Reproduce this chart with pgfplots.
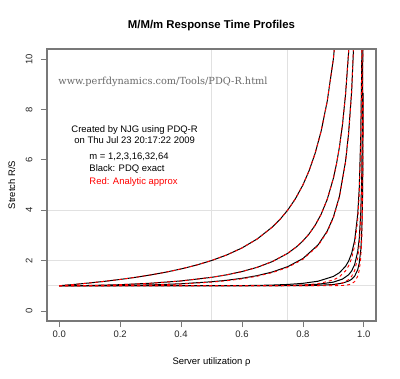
\documentclass[border=0pt]{standalone}
\usepackage{fontspec}
\setmainfont{Liberation Sans}
\newfontfamily\urlfont{DejaVu Serif}
\usepackage{pgfplots}
\pgfplotsset{compat=1.18}
\definecolor{boxgray}{RGB}{120,120,120}
\definecolor{gridgray}{RGB}{225,225,225}
\definecolor{urlgray}{RGB}{105,105,105}
\definecolor{rred}{RGB}{255,0,0}
\begin{document}
\begin{tikzpicture}
\useasboundingbox (-47bp,-58bp) rectangle (353bp,321bp);
\begin{axis}[
  at={(0,0)}, anchor=south west,
  scale only axis, width=329bp, height=272bp,
  xmin=-0.04, xmax=1.04, ymin=-0.4, ymax=10.4,
  axis line style={draw=boxgray, line width=1.1bp},
  tick align=outside,
  major tick length=6bp,
  every tick/.style={draw=boxgray, line width=0.7bp},
  xtick={0,0.2,0.4,0.6,0.8,1},
  xticklabels={0.0,0.2,0.4,0.6,0.8,1.0},
  ytick={0,2,4,6,8,10},
  xtick pos=bottom, ytick pos=left,
  /pgf/number format/assume math mode=true,
  ticklabel style={font=\fontsize{9.5}{11}\selectfont, text=black!85},
  yticklabel style={rotate=90, anchor=south},
  yticklabel shift=5bp,
  extra x ticks={0.5,0.75}, extra x tick labels={},
  extra x tick style={grid=major, major grid style={draw=gridgray, line width=0.6bp}, major tick length=0pt},
  extra y ticks={1,2,4}, extra y tick labels={},
  extra y tick style={grid=major, major grid style={draw=gridgray, line width=0.6bp}, major tick length=0pt},
  title={M/M/m Response Time Profiles},
  title style={font=\bfseries\fontsize{11.4}{13}\selectfont, at={(axis description cs:0.5,1.066)}, anchor=center},
  xlabel={Server utilization ρ},
  ylabel={Stretch R/S},
  xlabel style={font=\fontsize{9.5}{11}\selectfont, at={(axis description cs:0.5,-0.151)}, anchor=center},
  ylabel style={font=\fontsize{9.5}{11}\selectfont, at={(axis description cs:-0.107,0.5)}, anchor=center},
  clip=true,
]
% ---------- PDQ exact (black) ----------
\addplot[black, line width=1bp] coordinates {
(0,1) (0.05,1.0526) (0.1,1.1111) (0.15,1.1765) (0.2,1.25) (0.25,1.3333) (0.3,1.4286) (0.35,1.5385) (0.4,1.6667) (0.45,1.8182) (0.5,2) (0.55,2.2222) (0.6,2.5) (0.65,2.8571) (0.7,3.3333) (0.725,3.6364) (0.75,4) (0.775,4.4444) (0.8,5) (0.82,5.5556) (0.84,6.25) (0.86,7.1429) (0.88,8.3333) (0.9,10) (0.92,12.5)};
\addplot[black, line width=1bp] coordinates {
(0,1) (0.1,1.0101) (0.2,1.0417) (0.3,1.0989) (0.4,1.1905) (0.5,1.3333) (0.55,1.4337) (0.6,1.5625) (0.65,1.7316) (0.7,1.9608) (0.75,2.2857) (0.78,2.5536) (0.8,2.7778) (0.82,3.0525) (0.84,3.3967) (0.86,3.8402) (0.88,4.4326) (0.9,5.2632) (0.91,5.8173) (0.92,6.5104) (0.93,7.4019) (0.94,8.5911) (0.95,10.2564) (0.96,12.755)};
\addplot[black, line width=1bp] coordinates {
(0,1) (0.1,1.0014) (0.2,1.0103) (0.3,1.0333) (0.4,1.0784) (0.5,1.1579) (0.55,1.2172) (0.6,1.2956) (0.65,1.4012) (0.7,1.5470) (0.75,1.7570) (0.8,2.0787) (0.85,2.6231) (0.88,3.1722) (0.9,3.7235) (0.92,4.5528) (0.94,5.9376) (0.95,7.0467) (0.96,8.7114) (0.97,11.487)};
\addplot[black, line width=1bp] coordinates {
(0,1) (0.3,1) (0.5,1.001) (0.6,1.006) (0.65,1.013) (0.7,1.027) (0.75,1.0511) (0.8,1.0953) (0.85,1.1805) (0.9,1.3696) (0.92,1.5181) (0.94,1.7707) (0.95,1.9752) (0.96,2.2849) (0.97,2.8017) (0.98,3.8387) (0.985,4.8784) (0.99,6.9597) (0.993,9.637) (0.994,11.125)};
\addplot[black, line width=1bp] coordinates {
(0,1) (0.5,1.0002) (0.6,1.0015) (0.7,1.0055) (0.75,1.012) (0.8,1.0263) (0.85,1.0588) (0.9,1.1432) (0.93,1.2642) (0.95,1.4348) (0.96,1.5865) (0.97,1.8427) (0.98,2.3595) (0.985,2.8780) (0.99,3.9173) (0.993,5.2552) (0.995,7.0401) (0.996,8.602) (0.997,11.206)};
\addplot[black, line width=1bp] coordinates {
(0,1) (0.7,1.0003) (0.8,1.003) (0.85,1.0157) (0.9,1.0488) (0.93,1.1036) (0.95,1.1838) (0.96,1.2570) (0.97,1.3825) (0.98,1.6389) (0.985,1.8968) (0.99,2.4153) (0.993,3.0826) (0.995,3.9755) (0.996,4.7562) (0.997,6.0578) (0.998,8.6616)};
% ---------- Analytic approx (red dashed) ----------
\addplot[rred, line width=0.9bp, dash pattern=on 3bp off 3bp] coordinates {
(0,1) (0.05,1.0526) (0.1,1.1111) (0.15,1.1765) (0.2,1.25) (0.25,1.3333) (0.3,1.4286) (0.35,1.5385) (0.4,1.6667) (0.45,1.8182) (0.5,2) (0.55,2.2222) (0.6,2.5) (0.65,2.8571) (0.7,3.3333) (0.725,3.6364) (0.75,4) (0.775,4.4444) (0.8,5) (0.82,5.5556) (0.84,6.25) (0.86,7.1429) (0.88,8.3333) (0.9,10) (0.92,12.5)};
\addplot[rred, line width=0.9bp, dash pattern=on 3bp off 3bp] coordinates {
(0,1) (0.1,1.0101) (0.2,1.0417) (0.3,1.0989) (0.4,1.1905) (0.5,1.3333) (0.55,1.4337) (0.6,1.5625) (0.65,1.7316) (0.7,1.9608) (0.75,2.2857) (0.78,2.5536) (0.8,2.7778) (0.82,3.0525) (0.84,3.3967) (0.86,3.8402) (0.88,4.4326) (0.9,5.2632) (0.91,5.8173) (0.92,6.5104) (0.93,7.4019) (0.94,8.5911) (0.95,10.2564) (0.96,12.755)};
\addplot[rred, line width=0.9bp, dash pattern=on 3bp off 3bp] coordinates {
(0,1) (0.1,1.001) (0.2,1.0081) (0.3,1.0277) (0.4,1.0684) (0.5,1.1429) (0.55,1.1996) (0.6,1.2755) (0.65,1.3786) (0.7,1.5221) (0.75,1.7297) (0.8,2.0492) (0.85,2.5915) (0.88,3.1394) (0.9,3.6900) (0.92,4.5185) (0.94,5.9027) (0.95,7.0114) (0.96,8.6757) (0.97,11.451)};
\addplot[rred, line width=0.9bp, dash pattern=on 3bp off 3bp] coordinates {
(0,1) (0.5,1.0000) (0.6,1.0003) (0.65,1.001) (0.7,1.0033) (0.75,1.0101) (0.8,1.029) (0.85,1.0802) (0.9,1.2275) (0.92,1.3576) (0.94,1.5913) (0.95,1.7861) (0.96,2.0851) (0.97,2.5924) (0.98,3.6207) (0.985,4.6555) (0.99,6.7322) (0.993,9.4065) (0.995,12.975)};
\addplot[rred, line width=0.9bp, dash pattern=on 3bp off 3bp] coordinates {
(0,1) (0.75,1.0001) (0.8,1.0008) (0.85,1.0056) (0.9,1.0356) (0.93,1.1087) (0.95,1.2402) (0.96,1.3714) (0.97,1.6059) (0.98,2.1004) (0.985,2.6078) (0.99,3.6361) (0.993,4.9672) (0.995,6.7476) (0.996,8.3077) (0.997,10.909)};
\addplot[rred, line width=0.9bp, dash pattern=on 3bp off 3bp] coordinates {
(0,1) (0.9,1.0012) (0.93,1.0097) (0.95,1.0390) (0.96,1.0792) (0.97,1.1660) (0.98,1.3783) (0.985,1.6132) (0.99,2.1079) (0.993,2.7616) (0.995,3.6438) (0.996,4.4199) (0.997,5.7163) (0.998,8.3126)};
% ---------- annotations ----------
\node[anchor=west, inner sep=0pt, text=urlgray, font=\urlfont\fontsize{9.8}{11}\selectfont] at (axis cs:-0.003,9.09) {www.perfdynamics.com/Tools/PDQ-R.html};
\node[anchor=center, inner sep=0pt, font=\fontsize{9.5}{11}\selectfont] at (axis cs:0.2476,7.20) {Created by NJG using PDQ-R};
\node[anchor=center, inner sep=0pt, font=\fontsize{9.5}{11}\selectfont] at (axis cs:0.2476,6.77) {on Thu Jul 23 20:17:22 2009};
\node[anchor=west, inner sep=0pt, font=\fontsize{9.5}{11}\selectfont] at (axis cs:0.0987,6.10) {m = 1,2,3,16,32,64};
\node[anchor=west, inner sep=0pt, font=\fontsize{9.5}{11}\selectfont] at (axis cs:0.0987,5.63) {Black: PDQ exact};
\node[anchor=west, inner sep=0pt, text=rred, font=\fontsize{9.5}{11}\selectfont] at (axis cs:0.0987,5.12) {Red: Analytic approx};
\end{axis}
\draw[boxgray, line width=1.1bp] (0,0) rectangle (329bp,272bp);
\end{tikzpicture}
\end{document}
